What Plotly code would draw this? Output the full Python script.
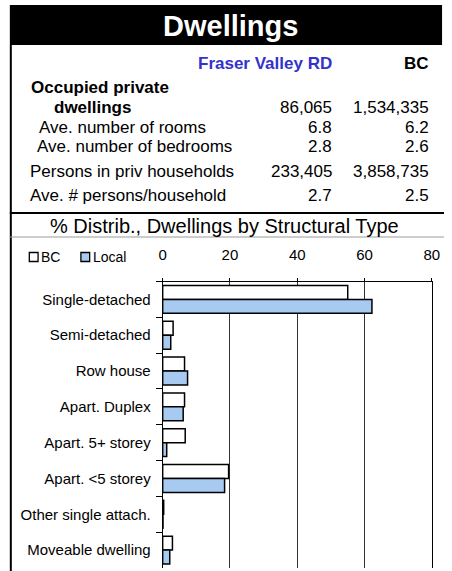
import plotly.graph_objects as go

# ---------------- data ----------------
title_text = "Dwellings"
region_name = "Fraser Valley RD"
bc_name = "BC"

occupied_label = ["Occupied private", "dwellings"]
occupied_local = 86065
occupied_bc = 1534335

row_labels = ["Ave. number of rooms", "Ave. number of bedrooms",
              "Persons in priv households", "Ave. # persons/household"]
row_local = [6.8, 2.8, 233405, 2.7]
row_bc = [6.2, 2.6, 3858735, 2.5]

chart_title = "% Distrib., Dwellings by Structural Type"
series_names = ["BC", "Local"]
categories = ["Single-detached", "Semi-detached", "Row house", "Apart. Duplex",
              "Apart. 5+ storey", "Apart. <5 storey", "Other single attach.",
              "Moveable dwelling"]
bc_pct = [55.0, 3.1, 6.5, 6.5, 6.7, 19.6, 0.3, 2.9]
local_pct = [62.2, 2.4, 7.4, 6.1, 1.2, 18.4, 0.1, 2.1]
x_ticks = [0, 20, 40, 60, 80]

# ---------------- helpers ----------------
W, H = 452, 571
FONT = "Liberation Sans, Arial, sans-serif"
BLUE_BAR = "#A6CAF0"
BLUE_TXT = "#3333CC"


def px(x):
    return x / W


def py(y):
    return 1 - y / H


def fmt(v):
    if isinstance(v, int):
        return f"{v:,}"
    return f"{v:.1f}"


annotations = []
shapes = []


def text(s, x, y, size=17, anchor="left", color="black", bold=False):
    annotations.append(dict(
        text=f"<b>{s}</b>" if bold else s,
        x=px(x), y=py(y), xref="paper", yref="paper",
        xanchor=anchor, yanchor="middle", showarrow=False,
        font=dict(family=FONT, size=size, color=color), borderpad=0))


# banner
shapes.append(dict(type="rect", xref="paper", yref="paper",
                   x0=px(6), x1=px(450), y0=py(45), y1=py(5),
                   fillcolor="black", line=dict(width=0), layer="below"))
text(title_text, 233, 26, size=29, anchor="center", color="white", bold=True)

# left border
shapes.append(dict(type="line", xref="paper", yref="paper",
                   x0=px(7), x1=px(7), y0=py(45), y1=py(571),
                   line=dict(color="black", width=2)))

# header
text(region_name, 338, 63, size=17, anchor="right", color=BLUE_TXT, bold=True)
text(bc_name, 438, 63, size=17, anchor="right", bold=True)

text(occupied_label[0], 27, 88, bold=True)
text(occupied_label[1], 50, 108, bold=True)
text(fmt(occupied_local), 338, 108, anchor="right")
text(fmt(occupied_bc), 438, 108, anchor="right")

row_y = [127, 147, 171, 195]
row_x = [35, 33, 26, 26]
for lab, lv, bv, yy, xx in zip(row_labels, row_local, row_bc, row_y, row_x):
    text(lab, xx, yy)
    text(fmt(lv), 338, yy, anchor="right")
    text(fmt(bv), 438, yy, anchor="right")

# separators
shapes.append(dict(type="line", xref="paper", yref="paper",
                   x0=px(6), x1=px(452), y0=py(213), y1=py(213),
                   line=dict(color="black", width=2)))
shapes.append(dict(type="line", xref="paper", yref="paper",
                   x0=px(6), x1=px(452), y0=py(237), y1=py(237),
                   line=dict(color="#9a9a9a", width=1)))
text(chart_title, 226, 226, size=20, anchor="center")

# manual legend
leg_fill = ["white", BLUE_BAR]
leg_x = [26, 79]
for name, fc, lx in zip(series_names, leg_fill, leg_x):
    shapes.append(dict(type="rect", xref="paper", yref="paper",
                       x0=px(lx), x1=px(lx + 9), y0=py(261.5), y1=py(252.5),
                       fillcolor=fc, line=dict(color="black", width=1.3)))
    text(name, lx + 11, 257, size=14)

# ---------------- chart ----------------
fig = go.Figure()
fig.add_trace(go.Bar(name=series_names[0], y=categories, x=bc_pct, orientation="h",
                     marker=dict(color="white", line=dict(color="black", width=1.5))))
fig.add_trace(go.Bar(name=series_names[1], y=categories, x=local_pct, orientation="h",
                     marker=dict(color=BLUE_BAR, line=dict(color="black", width=1.5))))

fig.update_layout(
    width=W, height=H, autosize=False,
    margin=dict(l=0, r=0, t=0, b=0),
    paper_bgcolor="white", plot_bgcolor="white",
    barmode="group", bargap=0.22, bargroupgap=0,
    showlegend=False,
    font=dict(family=FONT, color="black"),
    annotations=annotations, shapes=shapes,
    xaxis=dict(domain=[px(163), px(439.5)], range=[0, 80], side="top",
               tickvals=x_ticks, ticktext=[str(t) for t in x_ticks],
               tickfont=dict(size=15), ticks="outside", ticklen=3,
               ticklabelstandoff=12,
               tickcolor="black", showline=True, linecolor="black", linewidth=1,
               showgrid=True, gridcolor="#333333", gridwidth=1,
               zeroline=False, fixedrange=True),
    yaxis=dict(domain=[py(568), py(281.5)], autorange="reversed",
               type="category", tickson="boundaries", ticks="outside",
               ticklen=6, tickcolor="black", tickfont=dict(size=15),
               ticklabelstandoff=8,
               showline=True, linecolor="black", linewidth=1, mirror=True,
               showgrid=False, zeroline=False, fixedrange=True),
)

fig.write_html("out.html", config=dict(displayModeBar=False),
               post_script="document.body.style.margin='0';document.body.style.overflow='hidden';")
